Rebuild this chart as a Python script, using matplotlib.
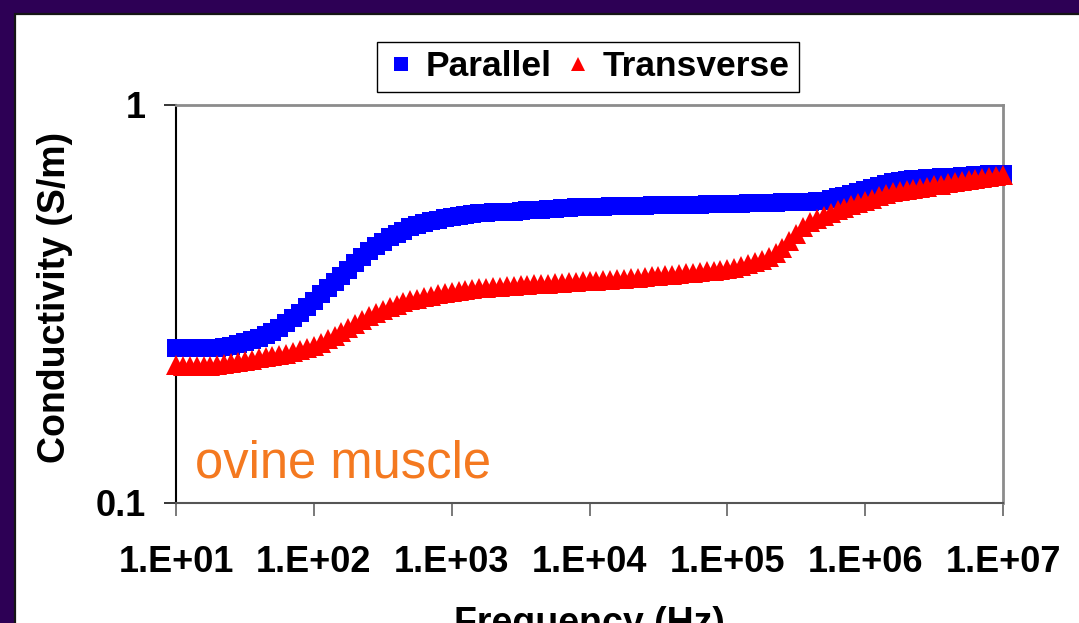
import matplotlib
matplotlib.use("Agg")
import matplotlib.pyplot as plt
from matplotlib.patches import Rectangle
from matplotlib.ticker import NullLocator
from matplotlib.lines import Line2D

plt.rcParams['font.family'] = ['Liberation Sans', 'DejaVu Sans']

# frequency grid: 20 points per decade, 10 Hz .. 10 MHz
mantissa = [1.000, 1.122, 1.259, 1.413, 1.585, 1.778, 1.995, 2.239, 2.512, 2.818,
            3.162, 3.548, 3.981, 4.467, 5.012, 5.623, 6.310, 7.079, 7.943, 8.913]
decades = [1, 2, 3, 4, 5, 6]
freq = [m * 10.0 ** d for d in decades for m in mantissa] + [1e7]

# conductivity (S/m)
parallel = [0.245, 0.245, 0.245, 0.245, 0.245, 0.245, 0.245, 0.246, 0.248, 0.251,
            0.254, 0.257, 0.260, 0.264, 0.269, 0.275, 0.283, 0.292, 0.300, 0.311,
            0.322, 0.335, 0.347, 0.359, 0.372, 0.385, 0.401, 0.415, 0.430, 0.442,
            0.453, 0.466, 0.474, 0.483, 0.494, 0.499, 0.505, 0.511, 0.514, 0.520,
            0.523, 0.526, 0.529, 0.532, 0.534, 0.535, 0.537, 0.539, 0.540, 0.540,
            0.542, 0.544, 0.545, 0.545, 0.547, 0.548, 0.550, 0.551, 0.553, 0.554,
            0.554, 0.555, 0.555, 0.556, 0.557, 0.557, 0.558, 0.559, 0.559, 0.560,
            0.560, 0.560, 0.561, 0.561, 0.561, 0.561, 0.562, 0.563, 0.563, 0.564,
            0.564, 0.565, 0.565, 0.566, 0.566, 0.567, 0.567, 0.568, 0.569, 0.570,
            0.570, 0.571, 0.572, 0.573, 0.574, 0.580, 0.587, 0.590, 0.597, 0.605,
            0.612, 0.619, 0.626, 0.633, 0.641, 0.644, 0.648, 0.650, 0.652, 0.654,
            0.656, 0.658, 0.659, 0.661, 0.663, 0.665, 0.667, 0.667, 0.669, 0.671,
            0.671]
transverse = [0.222, 0.221, 0.221, 0.221, 0.221, 0.221, 0.222, 0.224, 0.225, 0.226,
              0.228, 0.229, 0.231, 0.233, 0.234, 0.235, 0.237, 0.240, 0.242, 0.245,
              0.248, 0.252, 0.258, 0.263, 0.269, 0.275, 0.282, 0.288, 0.295, 0.300,
              0.305, 0.311, 0.314, 0.319, 0.324, 0.326, 0.329, 0.332, 0.335, 0.337,
              0.339, 0.341, 0.343, 0.345, 0.346, 0.347, 0.348, 0.349, 0.350, 0.351,
              0.352, 0.353, 0.354, 0.355, 0.356, 0.357, 0.358, 0.359, 0.360, 0.361,
              0.361, 0.362, 0.363, 0.364, 0.365, 0.366, 0.367, 0.368, 0.370, 0.371,
              0.372, 0.373, 0.374, 0.376, 0.378, 0.379, 0.381, 0.382, 0.383, 0.385,
              0.387, 0.390, 0.394, 0.398, 0.403, 0.408, 0.415, 0.425, 0.437, 0.455,
              0.474, 0.494, 0.508, 0.517, 0.526, 0.535, 0.545, 0.551, 0.561, 0.567,
              0.574, 0.582, 0.590, 0.597, 0.603, 0.608, 0.612, 0.615, 0.620, 0.624,
              0.628, 0.631, 0.637, 0.641, 0.644, 0.648, 0.652, 0.656, 0.659, 0.663,
              0.667]

xticks = [1e1, 1e2, 1e3, 1e4, 1e5, 1e6, 1e7]
xticklabels = ['1.E+01', '1.E+02', '1.E+03', '1.E+04', '1.E+05', '1.E+06', '1.E+07']
yticks = [0.1, 1]
yticklabels = ['0.1', '1']

W, H = 1079, 623
fig = plt.figure(figsize=(W / 100, H / 100), dpi=100, facecolor='#2D0055')

# white slide panel, kept behind the axes
fig.patches.append(Rectangle((14.5 / W, -0.02), 1.05, (H - 13.5) / H + 0.02,
                             transform=fig.transFigure, facecolor='white',
                             edgecolor='#151515', linewidth=1.6, zorder=-5))

ax = fig.add_axes([176 / W, 1 - 503 / H, (1003 - 176) / W, (503 - 105) / H])
ax.set_zorder(2)
ax.set_facecolor('white')

ax.plot(freq, parallel, linestyle='none', marker='s', markersize=12.3,
        color='#0000FF', markeredgewidth=0, clip_on=False, zorder=3)
ax.plot(freq, transverse, linestyle='none', marker='^', markersize=14,
        color='#FF0000', markeredgewidth=0, clip_on=False, zorder=4)

ax.set_xscale('log')
ax.set_yscale('log')
ax.set_xlim(10, 1e7)
ax.set_ylim(0.1, 1)
ax.set_xticks(xticks)
ax.set_xticklabels(xticklabels)
ax.set_yticks(yticks)
ax.set_yticklabels(yticklabels)
ax.xaxis.set_minor_locator(NullLocator())
ax.yaxis.set_minor_locator(NullLocator())

ax.tick_params(axis='x', direction='out', length=9.4, width=1.1, color='#555555',
               pad=21, labelsize=26)
ax.tick_params(axis='y', direction='out', length=8.6, width=1.1, color='black',
               pad=13, labelsize=26)
for lab in ax.get_xticklabels() + ax.get_yticklabels():
    lab.set_fontweight('bold')

ax.spines['left'].set_color('black')
ax.spines['left'].set_linewidth(1.5)
ax.spines['bottom'].set_color('#555555')
ax.spines['bottom'].set_linewidth(1.5)
ax.spines['top'].set_color('#8c8c8c')
ax.spines['top'].set_linewidth(2)
ax.spines['right'].set_color('#8c8c8c')
ax.spines['right'].set_linewidth(2)

ax.text(0.023, 0.065, 'ovine muscle', transform=ax.transAxes, va='baseline',
        ha='left', fontsize=36.5, color='#F47920')

fig.text(55 / W, 1 - 297 / H, 'Conductivity (S/m)', rotation=90, ha='center',
         va='center', fontsize=27, fontweight='bold')
fig.text(589 / W, 1 - 634 / H, 'Frequency (Hz)', ha='center', va='baseline',
         fontsize=27, fontweight='bold')

handles = [Line2D([], [], linestyle='none', marker='s', markersize=10, color='#0000FF',
                  markeredgewidth=0),
           Line2D([], [], linestyle='none', marker='^', markersize=10, color='#FF0000',
                  markeredgewidth=0)]
leg = fig.legend(handles, ['Parallel', 'Transverse'], ncol=2, loc='center',
                 bbox_to_anchor=(588 / W, 1 - 67 / H), frameon=True, fancybox=False,
                 edgecolor='black', framealpha=1, borderpad=0.25, borderaxespad=0,
                 handlelength=0.8, handletextpad=0.3, columnspacing=0.35,
                 prop={'size': 25.5, 'weight': 'bold'})
leg.get_frame().set_linewidth(1.0)
leg.set_zorder(5)

fig.savefig('out.png', dpi=100, facecolor=fig.get_facecolor())
